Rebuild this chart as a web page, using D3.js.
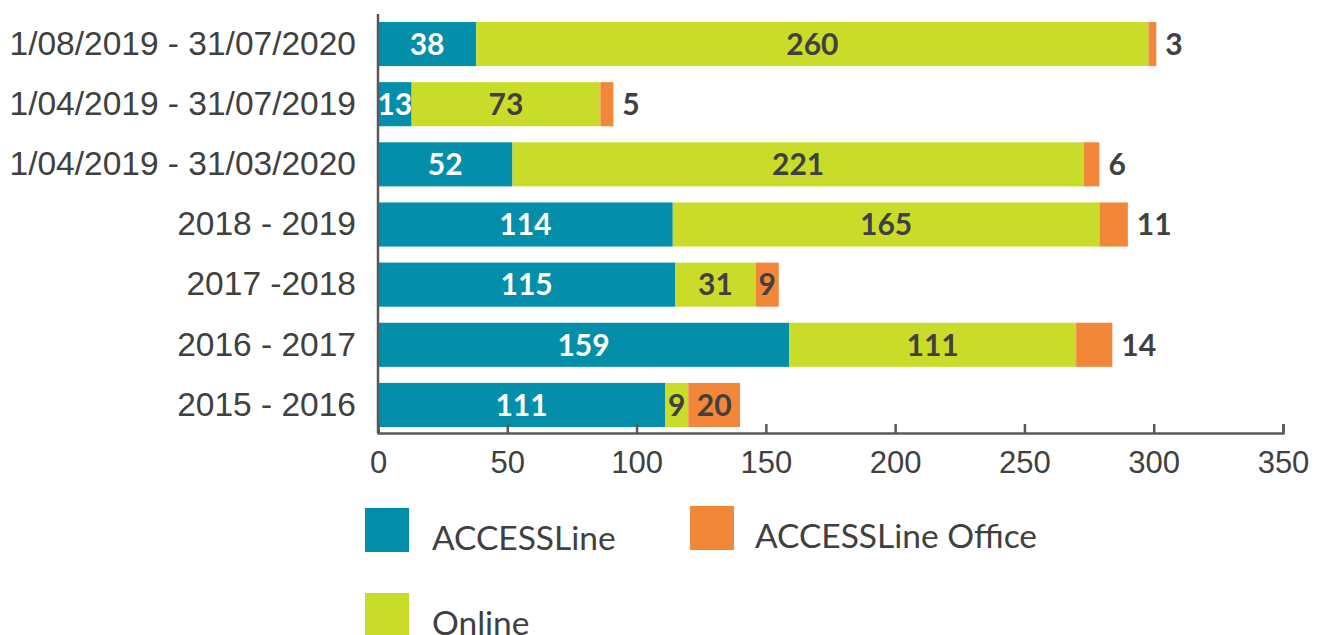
<!DOCTYPE html>
<html lang="en">
  <head>
    <meta charset="UTF-8" />
    <title>ACCESSLine channels</title>
    <style>
      body {
        margin: 0;
        background: #fff;
        font-family: Lato, "Liberation Sans", sans-serif;
      }
      .axis text {
        font-size: 31px;
        fill: #404040;
      }
      .axis.cats text {
        font-size: 33.5px;
      }
      .axis path,
      .axis line {
        stroke: #595959;
        stroke-width: 2.5px;
      }
      .val {
        font-size: 30px;
        font-weight: bold;
      }
      .legend text {
        font-size: 33.5px;
        fill: #404040;
      }
    </style>
  </head>
  <body>
    <svg id="chart"></svg>
    <script src="https://d3js.org/d3.v7.min.js"></script>
    <script>
      const width = 1325;
      const height = 635;

      const categories = [
        "1/08/2019 - 31/07/2020",
        "1/04/2019 - 31/07/2019",
        "1/04/2019 - 31/03/2020",
        "2018 - 2019",
        "2017 -2018",
        "2016 - 2017",
        "2015 - 2016"
      ];
      const accessLine = [38, 13, 52, 114, 115, 159, 111];
      const online = [260, 73, 221, 165, 31, 111, 9];
      const accessLineOffice = [3, 5, 6, 11, 9, 14, 20];
      const xTicks = [0, 50, 100, 150, 200, 250, 300, 350];

      const keys = ["ACCESSLine", "Online", "ACCESSLine Office"];
      const colors = {
        "ACCESSLine": "#038ea9",
        "Online": "#c9dc2a",
        "ACCESSLine Office": "#f28639"
      };
      const textColors = {
        "ACCESSLine": "#ffffff",
        "Online": "#404040",
        "ACCESSLine Office": "#404040"
      };

      const rows = categories.map((c, i) => ({
        cat: c,
        "ACCESSLine": accessLine[i],
        "Online": online[i],
        "ACCESSLine Office": accessLineOffice[i]
      }));

      const svg = d3.select("#chart").attr("width", width).attr("height", height);

      const x = d3.scaleLinear().domain([0, 350]).range([378, 1283]);
      const y = d3
        .scaleBand()
        .domain(categories)
        .range([14, 435])
        .paddingInner(0.267)
        .paddingOuter(0.133);

      const series = d3.stack().keys(keys)(rows);

      // bars
      const groups = svg
        .selectAll("g.series")
        .data(series)
        .enter()
        .append("g")
        .attr("class", "series")
        .attr("fill", (s) => colors[s.key]);

      groups
        .selectAll("rect")
        .data((s) => s)
        .enter()
        .append("rect")
        .attr("x", (d) => x(d[0]))
        .attr("y", (d) => y(d.data.cat))
        .attr("width", (d) => x(d[1]) - x(d[0]))
        .attr("height", y.bandwidth());

      // axes
      const axisY = 433;
      svg
        .append("g")
        .attr("class", "axis")
        .attr("transform", `translate(0,${axisY})`)
        .call(
          d3.axisBottom(x).tickValues(xTicks).tickSize(-9).tickSizeOuter(-9).tickPadding(18)
        )
        .call((g) => g.selectAll(".tick text").attr("dy", "0.71em"));

      svg
        .append("g")
        .attr("class", "axis cats")
        .attr("transform", `translate(${x(0)},0)`)
        .call(d3.axisLeft(y).tickSize(0).tickPadding(22))
        .call((g) => g.select(".domain").attr("d", `M0,14V${axisY}`));

      // value labels (small office values go just outside the bar end)
      series.forEach((s) => {
        s.forEach((d) => {
          const v = d[1] - d[0];
          const segW = x(d[1]) - x(d[0]);
          const t = svg
            .append("text")
            .attr("class", "val")
            .attr("y", y(d.data.cat) + y.bandwidth() / 2)
            .attr("dy", "0.36em")
            .attr("fill", textColors[s.key])
            .text(v);
          const tw = t.node().getComputedTextLength();
          if (s.key === "ACCESSLine Office" && tw + 4 > segW) {
            t.attr("x", x(d[1]) + 9).attr("text-anchor", "start");
          } else {
            t.attr("x", (x(d[0]) + x(d[1])) / 2).attr("text-anchor", "middle");
          }
        });
      });

      // legend
      const legendPos = [
        { key: "ACCESSLine", x: 365, y: 508 },
        { key: "ACCESSLine Office", x: 690, y: 506 },
        { key: "Online", x: 365, y: 593 }
      ];
      const legend = svg
        .selectAll("g.legend")
        .data(legendPos)
        .enter()
        .append("g")
        .attr("class", "legend")
        .attr("transform", (d) => `translate(${d.x},${d.y})`);
      legend
        .append("rect")
        .attr("width", 44)
        .attr("height", 44)
        .attr("fill", (d) => colors[d.key]);
      legend
        .append("text")
        .attr("x", (d) => (d.key === "ACCESSLine Office" ? 65 : 67))
        .attr("y", 42)
        .text((d) => d.key);
    </script>
  </body>
</html>
